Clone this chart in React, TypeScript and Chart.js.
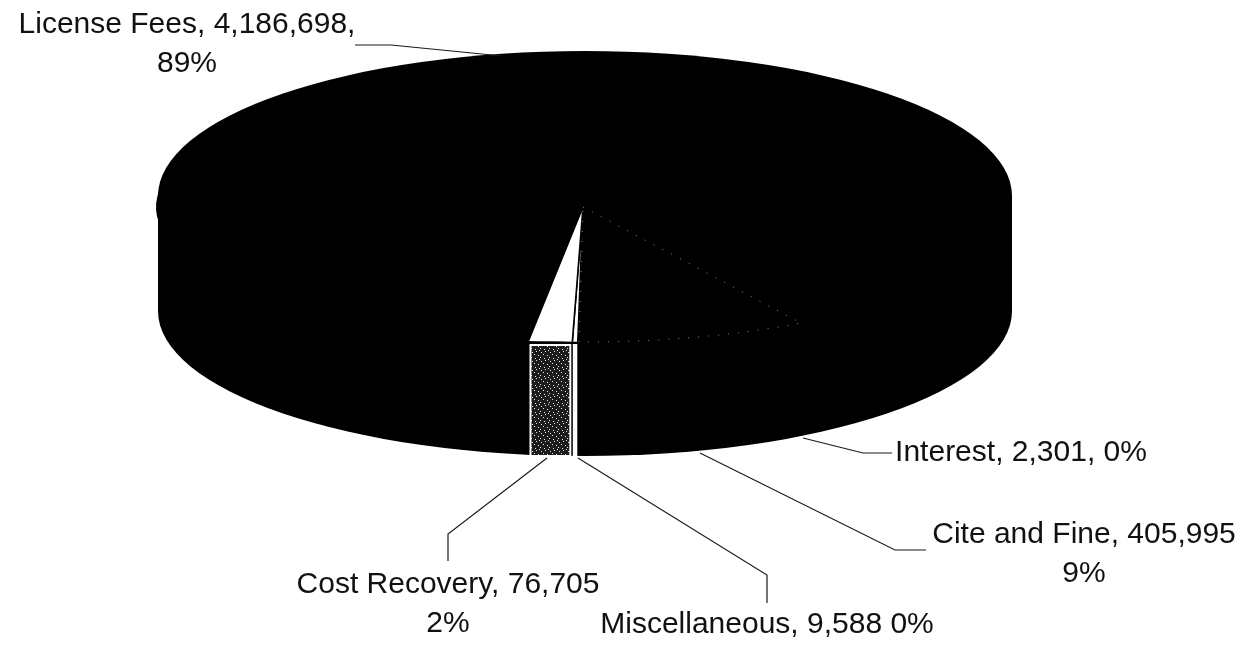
import React, { useEffect, useRef } from "react";
import { Chart, registerables } from "chart.js";

Chart.register(...registerables);

const categories = ["Cite and Fine", "Interest", "Miscellaneous", "Cost Recovery", "License Fees"];
const values = [405995, 2301, 9588, 76705, 4186698];
const valueLabels = ["405,995", "2,301", "9,588", "76,705", "4,186,698"];
const percentLabels = ["9%", "0%", "0%", "2%", "89%"];
const topColors = ["#000000", "#000000", "#ffffff", "#ffffff", "#000000"];

const labelLines = [
  [`${categories[0]}, ${valueLabels[0]}`, percentLabels[0]],
  [`${categories[1]}, ${valueLabels[1]}, ${percentLabels[1]}`],
  [`${categories[2]}, ${valueLabels[2]} ${percentLabels[2]}`],
  [`${categories[3]}, ${valueLabels[3]}`, percentLabels[3]],
  [`${categories[4]}, ${valueLabels[4]},`, percentLabels[4]],
];
const labelAnchors = [
  { x: 1084, y: 535 },
  { x: 1021, y: 453 },
  { x: 767, y: 625 },
  { x: 448, y: 585 },
  { x: 187, y: 25 },
];
const leaders = [
  [[700, 453], [895, 550], [926, 550]],
  [[803, 438], [863, 453], [892, 453]],
  [[578, 458], [767, 575], [767, 603]],
  [[547, 458], [448, 534], [448, 561]],
  [[502, 56], [391, 45], [355, 45]],
];

const RX = 427;
const APEX_X = 583;
const APEX_Y = 207;
const FACE_RY = 135;
const OUTLINE_X = 585;
const OUTLINE_Y = 196;
const OUTLINE_RY = 145;
const DEPTH = 113;

function stipple(ctx: CanvasRenderingContext2D) {
  const tile = document.createElement("canvas");
  tile.width = 9;
  tile.height = 9;
  const t = tile.getContext("2d")!;
  t.fillStyle = "#1c1c1c";
  t.fillRect(0, 0, 9, 9);
  t.fillStyle = "#e8e8e8";
  [[1, 1], [5, 0], [3, 3], [7, 4], [0, 6], [4, 7], [8, 8]].forEach(([x, y]) => t.fillRect(x, y, 1, 1));
  return ctx.createPattern(tile, "repeat")!;
}

const piePlugin = {
  id: "tiltedPie",
  beforeDatasetsDraw(chart: any) {
    const { ctx } = chart;
    const arcs = chart.getDatasetMeta(0).data;
    const R = arcs[0].outerRadius;
    // body of the cylinder
    ctx.save();
    ctx.fillStyle = "#000";
    ctx.beginPath();
    ctx.ellipse(OUTLINE_X, OUTLINE_Y, RX, OUTLINE_RY, 0, 0, Math.PI * 2);
    ctx.fill();
    ctx.beginPath();
    ctx.ellipse(OUTLINE_X, OUTLINE_Y + DEPTH + 2, RX, OUTLINE_RY, 0, 0, Math.PI * 2);
    ctx.fill();
    ctx.fillRect(OUTLINE_X - RX, OUTLINE_Y, RX * 2, DEPTH + 2);
    // front walls of the two small slices
    const panel = (i: number, fill: any, inset: number) => {
      const a = arcs[i];
      const x0 = APEX_X + RX * Math.cos(a.endAngle) + inset;
      const x1 = APEX_X + RX * Math.cos(a.startAngle) - inset;
      const top = APEX_Y + FACE_RY + 2;
      ctx.fillStyle = "#fff";
      ctx.fillRect(x0, top, x1 - x0, DEPTH);
      if (fill) {
        ctx.fillStyle = fill;
        ctx.fillRect(x0 + 2, top + 2, x1 - x0 - 4, DEPTH - 4);
      }
    };
    panel(3, stipple(ctx), 1);
    panel(2, null, 0.5);
    ctx.restore();
    // tilt the round pie into an ellipse
    ctx.save();
    ctx.translate(APEX_X, APEX_Y);
    ctx.scale(RX / R, FACE_RY / R);
    ctx.translate(-arcs[0].x, -arcs[0].y);
  },
  afterDatasetsDraw(chart: any) {
    const { ctx } = chart;
    ctx.restore();
    const arcs = chart.getDatasetMeta(0).data;
    // faint dotted edges of the dark Cite and Fine slice
    const a = arcs[0];
    ctx.save();
    ctx.strokeStyle = "rgba(255,255,255,0.55)";
    ctx.lineWidth = 1;
    ctx.setLineDash([1, 9]);
    ctx.beginPath();
    ctx.moveTo(APEX_X, APEX_Y);
    ctx.lineTo(APEX_X + RX * Math.cos(a.startAngle), APEX_Y + FACE_RY * Math.sin(a.startAngle));
    ctx.ellipse(APEX_X, APEX_Y, RX, FACE_RY, 0, a.startAngle, a.endAngle);
    ctx.lineTo(APEX_X, APEX_Y);
    ctx.stroke();
    ctx.restore();
    // leader lines
    ctx.save();
    ctx.strokeStyle = "#1a1a1a";
    ctx.lineWidth = 1.2;
    leaders.forEach((pts) => {
      ctx.beginPath();
      pts.forEach(([x, y], i) => (i ? ctx.lineTo(x, y) : ctx.moveTo(x, y)));
      ctx.stroke();
    });
    // labels
    ctx.fillStyle = "#111";
    ctx.font = '30px "Liberation Sans"';
    ctx.textAlign = "center";
    ctx.textBaseline = "middle";
    labelLines.forEach((lines, i) => {
      lines.forEach((line, j) => ctx.fillText(line, labelAnchors[i].x, labelAnchors[i].y + j * 39));
    });
    ctx.restore();
  },
};

export default function App() {
  const ref = useRef<HTMLCanvasElement>(null);
  useEffect(() => {
    const chart = new Chart(ref.current!, {
      type: "pie",
      data: {
        labels: categories,
        datasets: [
          {
            data: values,
            backgroundColor: topColors,
            borderColor: "#000",
            borderWidth: [0, 0, 1.2, 1.2, 0],
            clip: false,
          } as any,
        ],
      },
      options: {
        animation: false,
        responsive: false,
        rotation: 149.3,
        plugins: { legend: { display: false }, tooltip: { enabled: false } },
      },
      plugins: [piePlugin],
    });
    return () => chart.destroy();
  }, []);
  return (
    <div style={{ position: "absolute", left: 0, top: 0, width: 1244, height: 645, background: "#fff" }}>
      <canvas ref={ref} width={1244} height={645} style={{ display: "block" }} />
    </div>
  );
}
